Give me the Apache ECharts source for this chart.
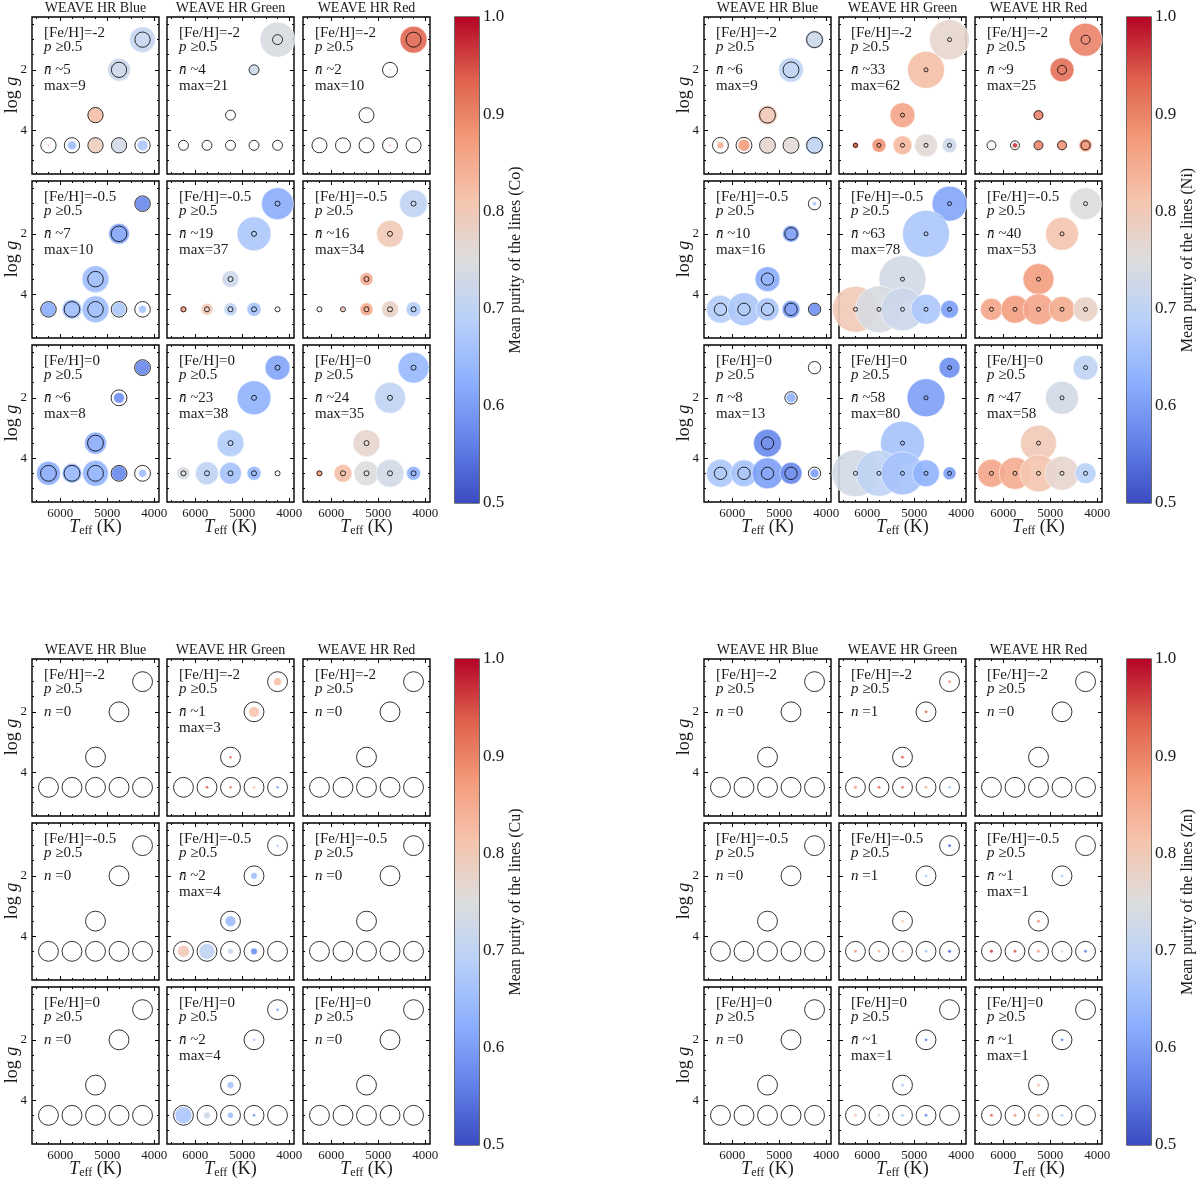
<!DOCTYPE html>
<html>
<head>
<meta charset="utf-8">
<script src="https://cdn.jsdelivr.net/npm/echarts@6/dist/echarts.min.js"></script>
<style>
html, body { margin: 0; background: #fff; }
#chart { width: 1200px; height: 1184px; }
</style>
</head>
<body>
<div id="chart"></div>
<script>
// grid points of every subplot (same order for all value arrays below)
var TEFF = [4250, 4750, 5250, 6250, 5750, 5250, 4750, 4250];
var LOGG = [1.0, 2.0, 3.5, 4.5, 4.5, 4.5, 4.5, 4.5];
var SETUPS = ['Blue', 'Green', 'Red'];
var FEH = ['-2', '-0.5', '0'];
var X_MAJOR = [4000, 5000, 6000];
var X_MINOR = [4250, 4500, 4750, 5250, 5500, 5750, 6250, 6500];
var Y_MAJOR = [2, 4];
var Y_MINOR = [0.5, 1, 1.5, 2.5, 3, 3.5, 4.5, 5];

// relative number of lines (marker area), one row per subplot:
// [Fe/H]=-2 Blue/Green/Red, -0.5 Blue/Green/Red, 0 Blue/Green/Red
var CO_N = [
  [75, 59, 28, 0.5, 9, 25, 25, 13],
  [136, 11, 0, 0, 0, 0, 0, 0],
  [81, 0.3, 0, 0, 0, 0, 0.5, 0.3],
  [25, 49, 81, 25, 44, 81, 22, 7],
  [114, 128, 32, 5, 16, 19, 22, 0],
  [87, 81, 19, 0, 2, 19, 32, 25],
  [25, 13, 54, 64, 44, 75, 25, 7],
  [69, 128, 81, 19, 59, 54, 22, 0],
  [107, 107, 81, 4, 36, 69, 87, 22]
];
// mean purity of the lines
var CO_P = [
  [0.71, 0.72, 0.82, 0.85, 0.65, 0.79, 0.73, 0.67],
  [0.74, 0.72, 0, 0, 0, 0, 0, 0],
  [0.93, 0.90, 0, 0, 0, 0, 0.90, 0.80],
  [0.57, 0.61, 0.65, 0.62, 0.65, 0.65, 0.67, 0.66],
  [0.62, 0.67, 0.72, 0.86, 0.80, 0.70, 0.66, 0],
  [0.70, 0.80, 0.85, 0, 0.82, 0.85, 0.78, 0.68],
  [0.57, 0.58, 0.62, 0.62, 0.64, 0.63, 0.57, 0.65],
  [0.61, 0.63, 0.68, 0.74, 0.70, 0.66, 0.64, 0],
  [0.64, 0.70, 0.77, 0.87, 0.82, 0.75, 0.73, 0.63]
];
var CO_REF = [26, 11, 25, 27, 2.8, 2.8, 28, 2.8, 2.8];
var CO_NBAR = [5, 4, 2, 7, 19, 16, 6, 23, 24];
var CO_MAX = [9, 21, 10, 10, 37, 34, 8, 38, 35];

var NI_N = [
  [40, 69, 44, 5, 16, 25, 25, 36],
  [178, 152, 69, 4, 22, 40, 59, 25],
  [121, 64, 11, 0, 3, 9, 11, 19],
  [2, 32, 69, 87, 121, 59, 36, 16],
  [136, 245, 245, 235, 245, 205, 100, 36],
  [114, 121, 107, 54, 87, 107, 75, 69],
  [0.5, 11, 87, 87, 81, 107, 54, 9],
  [49, 160, 215, 245, 235, 205, 81, 19],
  [69, 121, 144, 87, 114, 152, 128, 49]
];
var NI_P = [
  [0.72, 0.70, 0.80, 0.85, 0.87, 0.77, 0.76, 0.70],
  [0.77, 0.82, 0.86, 0.93, 0.88, 0.83, 0.76, 0.72],
  [0.90, 0.92, 0.90, 0, 0.97, 0.90, 0.88, 0.88],
  [0.66, 0.60, 0.62, 0.68, 0.67, 0.67, 0.60, 0.58],
  [0.61, 0.67, 0.73, 0.80, 0.74, 0.72, 0.67, 0.60],
  [0.75, 0.81, 0.87, 0.86, 0.87, 0.86, 0.85, 0.78],
  [0.67, 0.63, 0.57, 0.67, 0.66, 0.60, 0.57, 0.60],
  [0.58, 0.60, 0.66, 0.73, 0.70, 0.66, 0.63, 0.60],
  [0.70, 0.73, 0.80, 0.86, 0.85, 0.81, 0.77, 0.69]
];
var NI_REF = [28, 1.8, 9, 17, 1.8, 1.8, 17, 1.8, 1.8];
var NI_NBAR = [6, 33, 9, 10, 63, 40, 8, 58, 47];
var NI_MAX = [9, 62, 25, 16, 78, 53, 13, 80, 58];

var CU_N = [
  [0, 0, 0, 0, 0, 0, 0, 0],
  [7, 13, 1, 0, 1, 1, 1, 1],
  [0, 0, 0, 0, 0, 0, 0, 0],
  [0, 0, 0, 0, 0, 0, 0, 0],
  [1, 5, 13, 16, 28, 4, 5, 0],
  [0, 0, 0, 0, 0, 0, 0, 0],
  [0, 0, 0, 0, 0, 0, 0, 0],
  [1, 1, 5, 32, 5, 4, 1, 0],
  [0, 0, 0, 0, 0, 0, 0, 0]
];
var CU_P = [
  [0, 0, 0, 0, 0, 0, 0, 0],
  [0.82, 0.81, 0.93, 0, 0.95, 0.92, 0.82, 0.60],
  [0, 0, 0, 0, 0, 0, 0, 0],
  [0, 0, 0, 0, 0, 0, 0, 0],
  [0.67, 0.65, 0.65, 0.80, 0.70, 0.72, 0.58, 0],
  [0, 0, 0, 0, 0, 0, 0, 0],
  [0, 0, 0, 0, 0, 0, 0, 0],
  [0.60, 0.66, 0.66, 0.67, 0.72, 0.65, 0.57, 0],
  [0, 0, 0, 0, 0, 0, 0, 0]
];
var CU_REF = [44, 44, 44, 44, 44, 44, 44, 44, 44];
var CU_NBAR = [0, 1, 0, 0, 2, 0, 0, 2, 0];
var CU_MAX = [null, 3, null, null, 4, null, null, 4, null];

var ZN_N = [
  [0, 0, 0, 0, 0, 0, 0, 0],
  [1.3, 1.3, 1.3, 1.3, 1.3, 1.3, 1.3, 1.3],
  [0, 0, 0, 0, 0, 0, 0, 0],
  [0, 0, 0, 0, 0, 0, 0, 0],
  [1.3, 1.3, 1.3, 1.3, 1.3, 1.3, 1.3, 1.3],
  [0, 1.3, 1.3, 1.3, 1.3, 1.3, 1.3, 1.3],
  [0, 0, 0, 0, 0, 0, 0, 0],
  [0, 1.3, 1.3, 1.3, 1.3, 1.3, 1.3, 0],
  [0, 1.3, 1.3, 1.3, 1.3, 1.3, 1.3, 0]
];
var ZN_P = [
  [0, 0, 0, 0, 0, 0, 0, 0],
  [0.87, 0.92, 0.93, 0.88, 0.92, 0.90, 0.83, 0.68],
  [0, 0, 0, 0, 0, 0, 0, 0],
  [0, 0, 0, 0, 0, 0, 0, 0],
  [0.55, 0.68, 0.80, 0.87, 0.84, 0.79, 0.67, 0.53],
  [0, 0.69, 0.88, 0.97, 0.94, 0.87, 0.74, 0.57],
  [0, 0, 0, 0, 0, 0, 0, 0],
  [0, 0.57, 0.67, 0.81, 0.74, 0.67, 0.58, 0],
  [0, 0.58, 0.82, 0.92, 0.88, 0.82, 0.68, 0]
];
var ZN_REF = [44, 44, 44, 44, 44, 44, 44, 44, 44];
var ZN_NBAR = [0, 1, 0, 0, 1, 1, 0, 1, 1];
var ZN_MAX = [null, null, null, null, null, 1, null, 1, 1];

var ELEMENTS = [
  { name: 'Co', n: CO_N, p: CO_P, ref: CO_REF, nbar: CO_NBAR, max: CO_MAX },
  { name: 'Ni', n: NI_N, p: NI_P, ref: NI_REF, nbar: NI_NBAR, max: NI_MAX },
  { name: 'Cu', n: CU_N, p: CU_P, ref: CU_REF, nbar: CU_NBAR, max: CU_MAX },
  { name: 'Zn', n: ZN_N, p: ZN_P, ref: ZN_REF, nbar: ZN_NBAR, max: ZN_MAX }
];

// layout
var PANEL_POS = [[0, 0], [672, 0], [0, 642], [672, 642]];
var COL_X = [32, 167, 303];
var ROW_Y = [17, 181, 345];
var COL_W = 127, ROW_H = 157;
var SIZE_K = 3;
var FONT = "'Liberation Serif', 'DejaVu Serif', serif";
var INK = '#1a1a1a';

// coolwarm colormap, 0.5 -> 1.0
var CW = [[59, 76, 192], [98, 130, 234], [141, 176, 254], [184, 208, 249], [221, 221, 221],
          [245, 196, 173], [244, 154, 123], [222, 96, 77], [180, 4, 38]];
function coolwarm(p) {
  var t = Math.max(0, Math.min(1, (p - 0.5) / 0.5)) * 8;
  var i = Math.min(7, Math.floor(t)), f = t - i;
  var c = CW[i].map(function (v, j) { return Math.round(v + (CW[i + 1][j] - v) * f); });
  return 'rgb(' + c.join(',') + ')';
}

var grids = [], xAxes = [], yAxes = [], series = [], graphics = [];

function rich(size) {
  return {
    i: { fontStyle: 'italic', fontSize: size, fontFamily: FONT, fill: INK },
    n: { fontSize: size, fontFamily: FONT, fill: INK },
    s: { fontSize: Math.round(size * 0.68), fontFamily: FONT, fill: INK, padding: [Math.round(size * 0.45), 0, 0, 0] }
  };
}
function addText(x, y, text, size, align, rot) {
  graphics.push({
    type: 'text', x: x, y: y, rotation: rot || 0, silent: true, z: 100,
    style: { text: text, fill: INK, fontSize: size, fontFamily: FONT,
             align: align || 'left', verticalAlign: 'middle', rich: rich(size) }
  });
}

function axisDef(gi, pos, vals, len, labels, isX) {
  var a = {
    gridIndex: gi, type: 'value', position: pos, inverse: true,
    axisLine: { show: false }, splitLine: { show: false },
    axisTick: { show: true, inside: true, length: len, customValues: vals, lineStyle: { color: '#000', width: 1 } },
    axisLabel: { show: labels, customValues: vals, color: INK, fontSize: 13, fontFamily: FONT, margin: 5,
                 formatter: function (v) { return String(v); } }
  };
  if (isX) { a.min = 3900; a.max = 6600; } else { a.min = 0.25; a.max = 5.45; }
  return a;
}

ELEMENTS.forEach(function (el, k) {
  var ox = PANEL_POS[k][0], oy = PANEL_POS[k][1];

  for (var r = 0; r < 3; r++) {
    for (var c = 0; c < 3; c++) {
      var s = r * 3 + c;
      var gx = ox + COL_X[c], gy = oy + ROW_Y[r];
      var gi = grids.length;
      grids.push({ left: gx, top: gy, width: COL_W, height: ROW_H, show: true,
                   borderColor: '#000', borderWidth: 1.4 });
      var xi = xAxes.length, yi = yAxes.length;
      xAxes.push(axisDef(gi, 'bottom', X_MAJOR, 4, r === 2, true));
      xAxes.push(axisDef(gi, 'bottom', X_MINOR, 2, false, true));
      xAxes.push(axisDef(gi, 'top', X_MAJOR, 4, false, true));
      xAxes.push(axisDef(gi, 'top', X_MINOR, 2, false, true));
      yAxes.push(axisDef(gi, 'left', Y_MAJOR, 4, c === 0, false));
      yAxes.push(axisDef(gi, 'left', Y_MINOR, 2, false, false));
      yAxes.push(axisDef(gi, 'right', Y_MAJOR, 4, false, false));
      yAxes.push(axisDef(gi, 'right', Y_MINOR, 2, false, false));

      var nArr = el.n[s], pArr = el.p[s];
      var fill = TEFF.map(function (t, i) { return [t, LOGG[i], nArr[i], pArr[i]]; })
                     .filter(function (d) { return d[2] > 0; });
      series.push({
        type: 'scatter', xAxisIndex: xi, yAxisIndex: yi, data: fill, clip: true, silent: true,
        symbolSize: function (v) { return SIZE_K * Math.sqrt(v[2]); },
        itemStyle: { color: function (prm) { return coolwarm(prm.value[3]); },
                     opacity: 0.9, borderColor: '#fff', borderWidth: 0.6 }
      });
      series.push({
        type: 'scatter', xAxisIndex: xi, yAxisIndex: yi, clip: true, silent: true,
        data: TEFF.map(function (t, i) { return [t, LOGG[i]]; }),
        symbolSize: SIZE_K * Math.sqrt(el.ref[s]),
        itemStyle: { color: 'rgba(0,0,0,0)', borderColor: '#000', borderWidth: 1 }
      });

      // annotations
      var tx = gx + 12;
      addText(tx, gy + 16, '[Fe/H]=' + FEH[r], 15);
      addText(tx, gy + 30, '{i|p} \u22650.5', 15);
      if (el.max[s] === null) {
        addText(tx, gy + 53, '{i|n} =' + el.nbar[s], 15);
      } else {
        addText(tx, gy + 53, '{i|n\u0304} ~' + el.nbar[s], 15);
        addText(tx, gy + 69, 'max=' + el.max[s], 15);
      }
      if (r === 0) addText(gx + COL_W / 2, oy + 8, 'WEAVE HR ' + SETUPS[c], 14, 'center');
      if (r === 2) addText(gx + COL_W / 2, oy + 527, '{i|T}{s|eff}{n| (K)}', 18, 'center');
    }
    addText(ox + 12, oy + ROW_Y[r] + 78, '{n|log }{i|g}', 18, 'center', Math.PI / 2);
  }

  // colorbar
  var cgi = grids.length;
  grids.push({ left: ox + 455, top: oy + 17, width: 24, height: 486, show: true,
               borderColor: '#000', borderWidth: 1.2 });
  var cxi = xAxes.length, cyi = yAxes.length;
  xAxes.push({ gridIndex: cgi, type: 'category', data: ['cb'], show: false });
  yAxes.push({
    gridIndex: cgi, type: 'value', position: 'right', min: 0.5, max: 1.0, interval: 0.1,
    axisLine: { show: false }, splitLine: { show: false },
    axisTick: { inside: true, length: 7, lineStyle: { color: '#000' } },
    minorTick: { show: true, splitNumber: 5, length: 3.5, lineStyle: { color: '#000' } },
    axisLabel: { formatter: function (v) { return v.toFixed(1); }, color: INK, fontSize: 17, fontFamily: FONT, margin: 4 }
  });
  var stops = CW.map(function (col, i) {
    return { offset: i / 8, color: 'rgb(' + col.join(',') + ')' };
  }).reverse().map(function (st) { return { offset: 1 - st.offset, color: st.color }; });
  series.push({ type: 'bar', xAxisIndex: cxi, yAxisIndex: cyi, stack: 'cb' + k, data: [0.5],
                barWidth: '100%', silent: true, itemStyle: { color: 'rgba(0,0,0,0)' } });
  series.push({ type: 'bar', xAxisIndex: cxi, yAxisIndex: cyi, stack: 'cb' + k, data: [0.5],
                barWidth: '100%', silent: true,
                itemStyle: { color: { type: 'linear', x: 0, y: 0, x2: 0, y2: 1, colorStops: stops } } });
  addText(ox + 516, oy + 260, 'Mean purity of the lines (' + el.name + ')', 16, 'center', Math.PI / 2);
});

var chart = echarts.init(document.getElementById('chart'));
chart.setOption({
  animation: false,
  backgroundColor: '#fff',
  grid: grids,
  xAxis: xAxes,
  yAxis: yAxes,
  series: series,
  graphic: graphics
});
window.addEventListener('resize', function () { chart.resize(); });
</script>
</body>
</html>
